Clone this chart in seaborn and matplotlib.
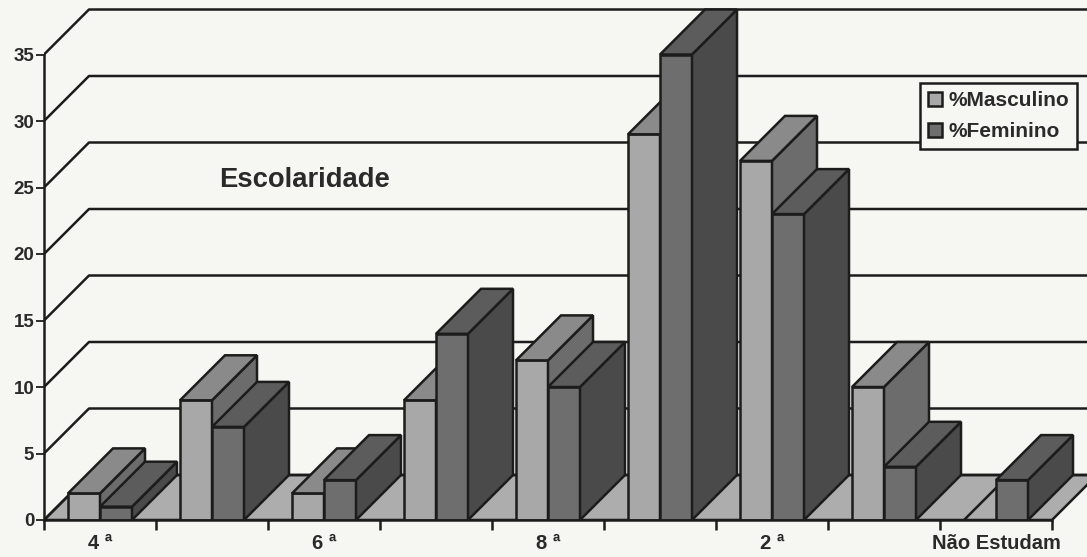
import matplotlib
matplotlib.use('Agg')
import matplotlib.pyplot as plt
from matplotlib.patches import Polygon
import pandas as pd
import seaborn as sns

# values
categories = ['4ª', '5ª', '6ª', '7ª', '8ª', '1ª', '2ª', '3ª', 'Não Estudam']
masculino = [2, 9, 2, 9, 12, 29, 27, 10, 0]
feminino = [1, 7, 3, 14, 10, 35, 23, 4, 3]
tick_labels = ['4 ª', '', '6 ª', '', '8 ª', '', '2 ª', '', 'Não Estudam']
y_ticks = [0, 5, 10, 15, 20, 25, 30, 35]

df = pd.DataFrame({
    'escolaridade': categories * 2,
    'sexo': ['%Masculino'] * 9 + ['%Feminino'] * 9,
    'valor': masculino + feminino,
})

sns.set_style('white')
plt.rcParams['font.family'] = ['Liberation Sans', 'DejaVu Sans']
plt.rcParams['font.weight'] = 'bold'

PAPER = '#f6f6f3'
FLOOR = '#adadad'
INK = '#1c1c1c'
LW = 1.8
FACES = {
    '%Masculino': ('#a8a8a8', '#8a8a8a', '#6c6c6c'),
    '%Feminino': ('#6e6e6e', '#5c5c5c', '#4a4a4a'),
}

W, H = 1087, 557
fig = plt.figure(figsize=(W / 100, H / 100), dpi=100, facecolor=PAPER)
ax = fig.add_axes([44 / W, (H - 520) / H, (W - 44) / W, 520 / H], facecolor=PAPER)

sns.barplot(data=df, x='escolaridade', y='valor', hue='sexo', ax=ax, saturation=1,
            palette={k: v[0] for k, v in FACES.items()}, width=64 / 112, gap=0,
            edgecolor=INK, linewidth=LW)

# grab the bars now, seaborn also leaves zero width legend patches in ax.patches
bars = sorted([p for p in ax.patches if p.get_width() > 0], key=lambda p: p.get_x())

# 112 px per category, 13.3 px per percent, depth of the fake 3d is 45 px both ways
x_left, x_right = -0.5, 8.5
ax.set_xlim(x_left, x_left + (W - 44) / 112)
ax.set_ylim(0, 520 / 13.3)
depth_x = 45 / 112
depth_y = 45 / 13.3

# floor
ax.add_patch(Polygon([(x_left, 0), (x_left + depth_x, depth_y), (x_right + depth_x, depth_y), (x_right, 0)],
                     closed=True, facecolor=FLOOR, edgecolor=INK, linewidth=LW, zorder=1))

# back wall lines
for v in y_ticks:
    ax.plot([x_left, x_left + depth_x, x_right + 2], [v, v + depth_y, v + depth_y],
            color=INK, linewidth=LW, zorder=1.5)

# sides and tops of the bars, left to right so the later ones cover the earlier ones
for i, bar in enumerate(bars):
    x, w, h = bar.get_x(), bar.get_width(), bar.get_height()
    faces = FACES['%Masculino'] if i % 2 == 0 else FACES['%Feminino']
    z = 3 + i
    bar.set_zorder(z)
    top = [(x, h), (x + depth_x, h + depth_y), (x + w + depth_x, h + depth_y), (x + w, h)]
    side = [(x + w, h), (x + w + depth_x, h + depth_y), (x + w + depth_x, depth_y), (x + w, 0)]
    ax.add_patch(Polygon(side, closed=True, facecolor=faces[2], edgecolor=INK, linewidth=LW, zorder=z))
    # the empty bar only shows as a pale patch on the floor
    top_color = FLOOR if h == 0 else faces[1]
    ax.add_patch(Polygon(top, closed=True, facecolor=top_color, edgecolor=INK, linewidth=LW, zorder=z))

# axes
sns.despine(ax=ax, top=True, right=True)
ax.spines['left'].set_bounds(0, 35)
ax.spines['bottom'].set_bounds(x_left, x_right)
for side_name in ['left', 'bottom']:
    ax.spines[side_name].set_linewidth(LW)
    ax.spines[side_name].set_color(INK)
    ax.spines[side_name].set_zorder(50)
ax.set_xlabel('')
ax.set_ylabel('')
ax.set_yticks(y_ticks)
ax.tick_params(axis='y', left=True, length=6, width=1.3, labelsize=13.5, pad=1, labelcolor='#2a2a2a', color=INK)
ax.set_xticks([x_left + i for i in range(10)])
ax.set_xticklabels([])
ax.set_xticks(range(9), minor=True)
ax.set_xticklabels(tick_labels, minor=True, fontsize=14.5, color='#2a2a2a', fontweight='bold')
ax.tick_params(axis='x', which='major', bottom=True, length=7, width=LW, color=INK)
ax.tick_params(axis='x', which='minor', bottom=False, length=0, pad=10)

ax.text(219 / W, 1 - 180 / H, 'Escolaridade', transform=fig.transFigure, fontsize=19.7,
        fontweight='bold', color='#2a2a2a', va='center', ha='left')

sns.move_legend(ax, 'upper left', bbox_to_anchor=((920 - 44) / (W - 44), 1 - 83 / 520), title=None,
                frameon=True, fancybox=False, edgecolor=INK, facecolor=PAPER, framealpha=1,
                fontsize=15, handlelength=0.67, handleheight=0.67, handletextpad=0.3,
                labelspacing=0.6, borderpad=0.38, borderaxespad=0)
leg = ax.get_legend()
leg.set_zorder(100)
leg.get_frame().set_linewidth(LW)
for text in leg.get_texts():
    text.set_color('#2a2a2a')

fig.savefig('out.png', dpi=100, facecolor=PAPER)
